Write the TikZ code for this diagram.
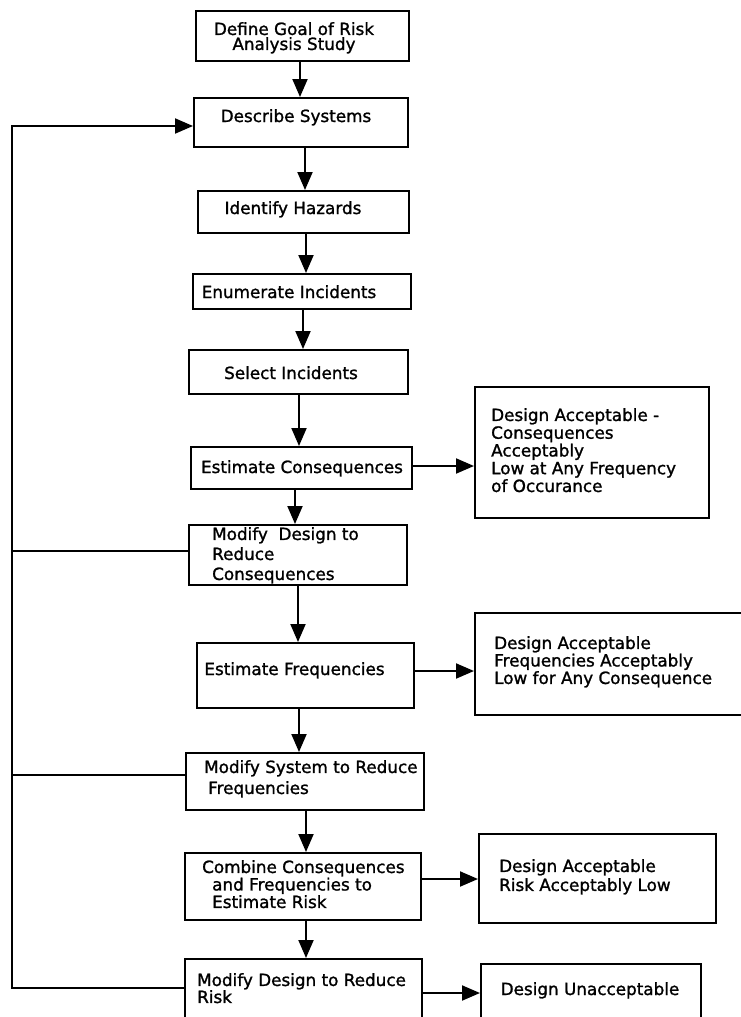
\documentclass[tikz,border=0pt]{standalone}
\usepackage{fontspec}
\setmainfont[FakeBold=1.3]{DejaVu Sans}
\usetikzlibrary{arrows.meta}
\tikzset{
  box/.style={draw, line width=2bp, inner sep=0pt, anchor=north west},
  txt/.style={inner sep=0pt, align=left, font=\fontsize{16.8bp}{#1}\selectfont},
  txt/.default=17.5bp,
  arr/.style={line width=2bp, -{Triangle[length=18bp,width=15bp]}},
  ln/.style={line width=2bp},
}
\newcommand\vlink[3]{\coordinate (vx) at (#3,0); \draw[arr] (#1.south -| vx) -- (#2.north -| vx);}
\newcommand\hlink[3]{\coordinate (hy) at (0,#3); \draw[arr] (#1.east |- hy) -- (#2.west |- hy);}
\begin{document}
\begin{tikzpicture}[x=1bp,y=-1bp]
\useasboundingbox (0,0) rectangle (741,1017);
\clip (0,0) rectangle (741,1017);
% boxes
\node[box, minimum width=213bp, minimum height=50bp] (A) at (195,10) {};
\node[box, minimum width=214bp, minimum height=49bp] (B) at (193,97) {};
\node[box, minimum width=211bp, minimum height=42bp] (C) at (197,190) {};
\node[box, minimum width=218bp, minimum height=35bp] (D) at (192,273) {};
\node[box, minimum width=219bp, minimum height=44bp] (E) at (188,349) {};
\node[box, minimum width=221bp, minimum height=42bp] (F) at (190,446) {};
\node[box, minimum width=234bp, minimum height=131bp] (G) at (474,386) {};
\node[box, minimum width=218bp, minimum height=60bp] (H) at (188,524) {};
\node[box, minimum width=217bp, minimum height=65bp] (I) at (196,642) {};
\node[box, minimum width=290bp, minimum height=102bp] (J) at (474,612) {};
\node[box, minimum width=238bp, minimum height=57bp] (K) at (185,752) {};
\node[box, minimum width=236bp, minimum height=67bp] (L) at (184,852) {};
\node[box, minimum width=237bp, minimum height=89bp] (M) at (478,833) {};
\node[box, minimum width=237bp, minimum height=80bp] (N) at (184,958) {};
\node[box, minimum width=220bp, minimum height=80bp] (O) at (480,963) {};
% texts
\node[txt=15bp, align=center, anchor=north] (At) at (294,22) {Define Goal of Risk\\Analysis Study};
\node[txt, anchor=base] (Bt) at (296,122) {Describe Systems};
\node[txt, anchor=base] (Ct) at (293,214) {Identify Hazards};
\node[txt, anchor=base] (Dt) at (289,298) {Enumerate Incidents};
\node[txt, anchor=base] (Et) at (291,379) {Select Incidents};
\node[txt, anchor=base] (Ft) at (302,473) {Estimate Consequences};
\node[txt=17.75bp, anchor=north west] (Gt) at (491,408) {Design Acceptable -\\Consequences\\Acceptably\\Low at Any Frequency\\of Occurance};
\node[txt=20bp, anchor=north west] (Ht) at (212,527) {Modify\ \ Design to\\Reduce\\Consequences};
\node[txt, anchor=base] (It) at (294.5,675) {Estimate Frequencies};
\node[txt=17.5bp, anchor=north west] (Jt) at (494,636) {Design Acceptable\\Frequencies Acceptably\\Low for Any Consequence};
\node[txt=21bp, anchor=north west] (Kt) at (204,760) {Modify System to Reduce\\\hspace*{4bp}Frequencies};
\node[txt=17.5bp, anchor=north west] (Lt) at (202,860) {Combine Consequences\\\hspace*{10bp}and Frequencies to\\\hspace*{10bp}Estimate Risk};
\node[txt=19bp, anchor=north west] (Mt) at (499,859) {Design Acceptable\\Risk Acceptably Low};
\node[txt=17bp, anchor=north west] (Nt) at (197,973) {Modify Design to Reduce\\Risk};
\node[txt, anchor=base] (Ot) at (590,995) {Design Unacceptable};
% main flow
\vlink{A}{B}{300}
\vlink{B}{C}{305}
\vlink{C}{D}{306}
\vlink{D}{E}{303}
\vlink{E}{F}{299}
\vlink{F}{H}{295}
\vlink{H}{I}{298}
\vlink{I}{K}{299}
\vlink{K}{L}{306}
\vlink{L}{N}{306}
% side outcomes
\hlink{F}{G}{466}
\hlink{I}{J}{671}
\hlink{L}{M}{879}
\hlink{N}{O}{993}
% feedback
\coordinate (fb) at (12,0);
\coordinate (yB) at (0,126);
\coordinate (yH) at (0,551);
\coordinate (yK) at (0,775);
\coordinate (yN) at (0,988);
\draw[arr] (N.west |- yN) -- (fb |- yN) -- (fb |- yB) -- (B.west |- yB);
\draw[ln] (H.west |- yH) -- (fb |- yH);
\draw[ln] (K.west |- yK) -- (fb |- yK);
\end{tikzpicture}
\end{document}
